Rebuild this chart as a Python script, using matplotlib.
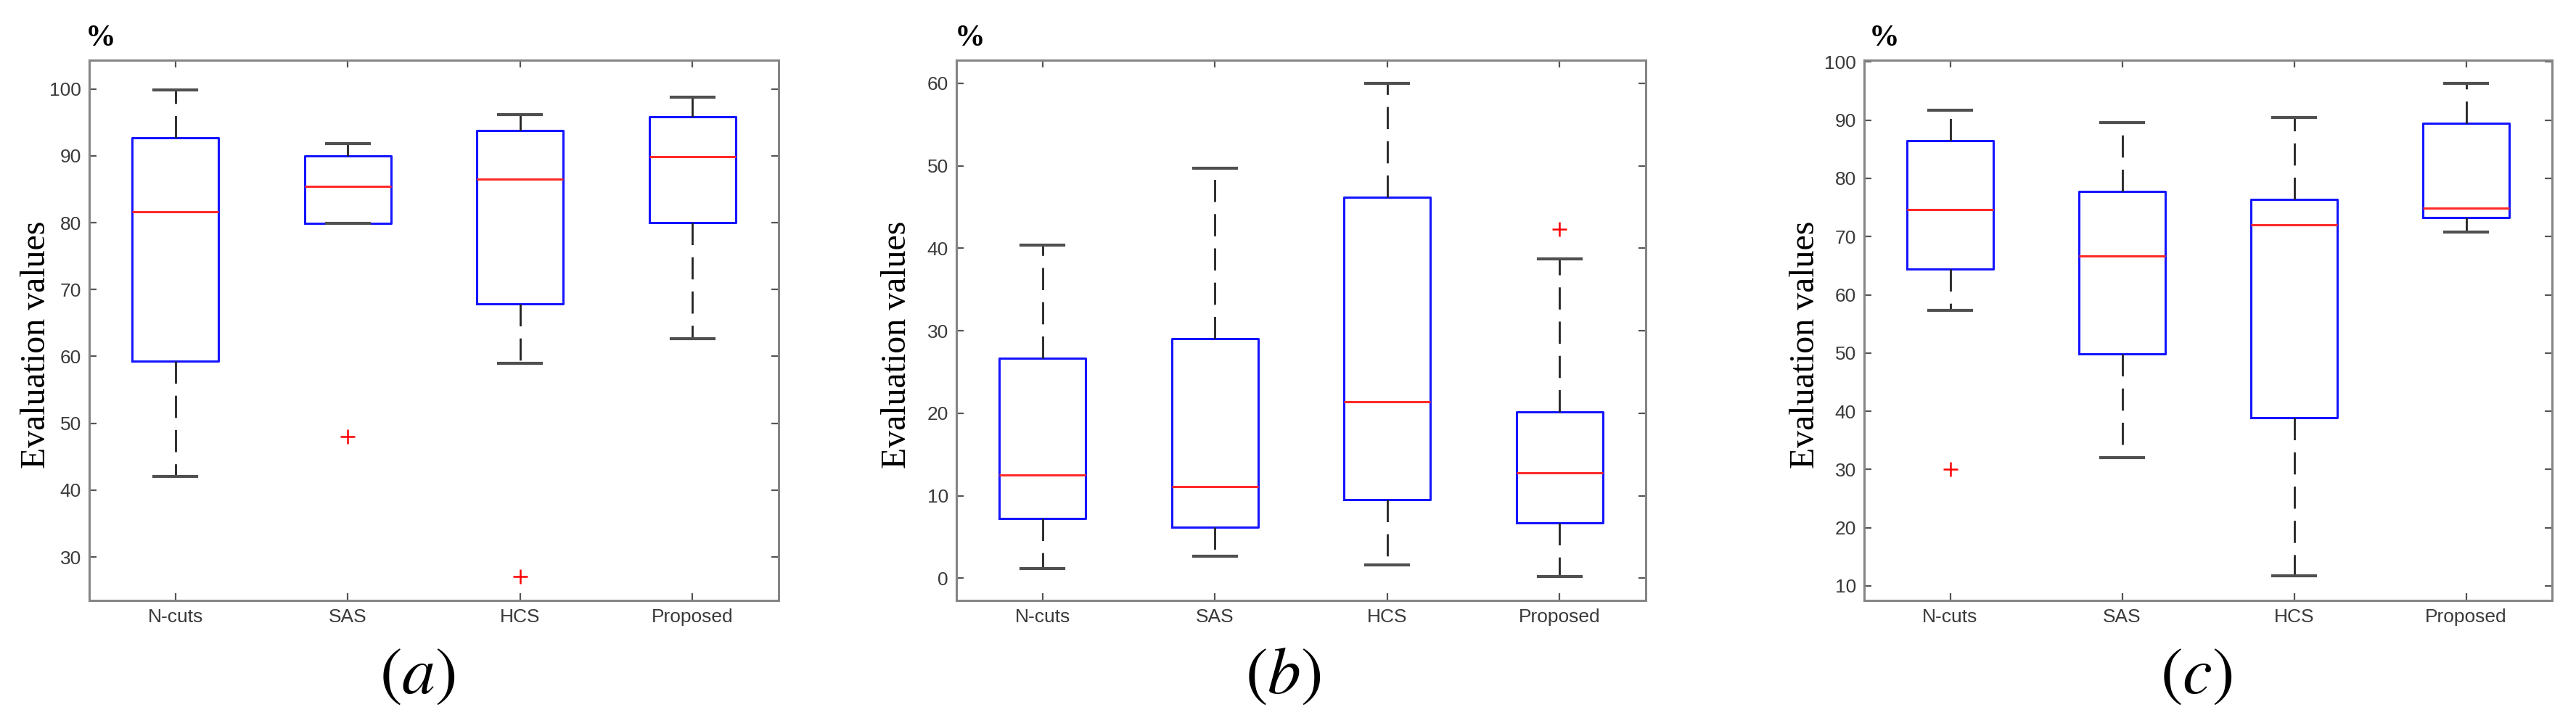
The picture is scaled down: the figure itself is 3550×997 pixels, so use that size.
import numpy as np
import matplotlib
matplotlib.use("Agg")
import matplotlib.pyplot as plt

# box statistics: whisker low, Q1, median, Q3, whisker high
methods = ["N-cuts", "SAS", "HCS", "Proposed"]

a_whislo = [42.1, 79.9, 59.0, 62.7]
a_q1 = [59.3, 79.9, 67.9, 80.0]
a_med = [81.6, 85.4, 86.5, 89.9]
a_q3 = [92.7, 90.0, 93.8, 95.8]
a_whishi = [99.9, 91.8, 96.2, 98.8]
a_fliers = [[], [48.0], [27.1], []]

b_whislo = [1.2, 2.7, 1.6, 0.2]
b_q1 = [7.25, 6.2, 9.5, 6.7]
b_med = [12.5, 11.1, 21.4, 12.8]
b_q3 = [26.7, 29.0, 46.2, 20.2]
b_whishi = [40.4, 49.7, 60.0, 38.7]
b_fliers = [[], [], [], [42.3]]

c_whislo = [57.3, 32.0, 11.7, 70.8]
c_q1 = [64.4, 49.8, 38.9, 73.3]
c_med = [74.6, 66.7, 72.0, 74.9]
c_q3 = [86.5, 77.8, 76.4, 89.5]
c_whishi = [91.7, 89.6, 90.4, 96.3]
c_fliers = [[30.0], [], [], []]

a_ticks = [30, 40, 50, 60, 70, 80, 90, 100]
b_ticks = [0, 10, 20, 30, 40, 50, 60]
c_ticks = [10, 20, 30, 40, 50, 60, 70, 80, 90, 100]

panels = [
    dict(lo=a_whislo, q1=a_q1, med=a_med, q3=a_q3, hi=a_whishi, fl=a_fliers,
         ticks=a_ticks, ylim=(23.5, 104.3), tag="a"),
    dict(lo=b_whislo, q1=b_q1, med=b_med, q3=b_q3, hi=b_whishi, fl=b_fliers,
         ticks=b_ticks, ylim=(-2.7, 62.8), tag="b"),
    dict(lo=c_whislo, q1=c_q1, med=c_med, q3=c_q3, hi=c_whishi, fl=c_fliers,
         ticks=c_ticks, ylim=(7.5, 100.3), tag="c"),
]

plt.rcParams['mathtext.fontset'] = 'stix'

W, H = 3550, 997
fig = plt.figure(figsize=(W / 100, H / 100), dpi=100)

# pixel layout of the three panels
lefts = [123, 1318, 2569]
widths = [950, 950, 948]
top_px, bot_px = 83, 828
ylab_x = [50, 1236, 2488]
tag_x = [575, 1768, 3027]
pct_x = [118, 1316, 2576]

spine_col = '#858585'
tick_col = '#3a3a3a'

for i, p in enumerate(panels):
    ax = fig.add_axes([lefts[i] / W, 1 - bot_px / H, widths[i] / W, (bot_px - top_px) / H])
    stats = []
    for k in range(4):
        stats.append(dict(med=p["med"][k], q1=p["q1"][k], q3=p["q3"][k],
                          whislo=p["lo"][k], whishi=p["hi"][k], fliers=p["fl"][k]))
    ax.bxp(stats, positions=[1, 2, 3, 4], widths=0.5, capwidths=0.25,
           boxprops=dict(color='#1515ff', linewidth=2.2),
           medianprops=dict(color='#ff2a2a', linewidth=2.2),
           whiskerprops=dict(color='#222222', linewidth=2.0, linestyle=(0, (11, 6))),
           capprops=dict(color='#505050', linewidth=3.0),
           flierprops=dict(marker='+', markeredgecolor='red', markersize=15,
                           markeredgewidth=1.8, linestyle='none'))
    ax.set_xlim(0.5, 4.5)
    ax.set_ylim(*p["ylim"])
    ax.set_yticks(p["ticks"])
    ax.set_xticks([1, 2, 3, 4])
    ax.set_xticklabels(methods)
    for s in ax.spines.values():
        s.set_color(spine_col)
        s.set_linewidth(2.2)
    ax.tick_params(direction='in', length=7, width=1.6, color='#555555',
                   top=True, right=True, labelsize=19, labelcolor=tick_col)
    ax.tick_params(axis='y', pad=8)
    ax.tick_params(axis='x', pad=8)
    for lab in ax.get_xticklabels() + ax.get_yticklabels():
        lab.set_family('Liberation Sans')

    fig.text(ylab_x[i] / W, 1 - 475 / H, "Evaluation values", rotation=90,
             ha='center', va='center', fontsize=34.5, family='Liberation Serif')
    fig.text(pct_x[i] / W, 1 - 63 / H, "%", ha='left', va='baseline',
             fontsize=30, fontweight='bold', family='Liberation Serif')
    fig.text(tag_x[i] / W, 1 - 930 / H, r"$(%s)$" % p["tag"], ha='center', va='center',
             fontsize=66)

fig.savefig("out.png", dpi=100, facecolor='white')
